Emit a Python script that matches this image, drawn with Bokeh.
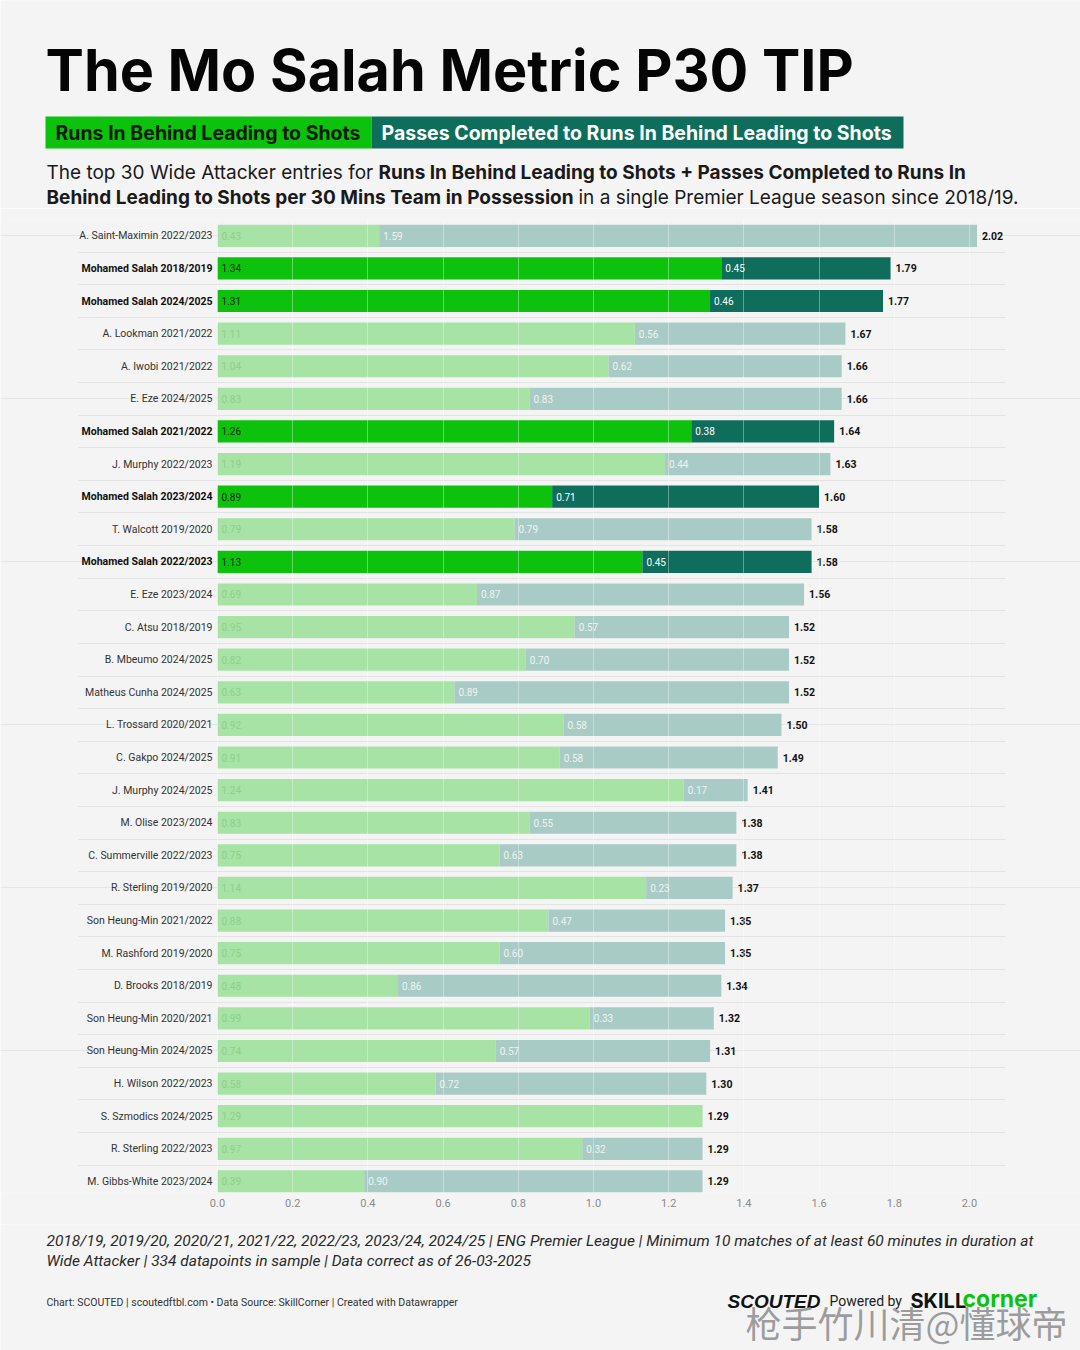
from bokeh.plotting import figure
from bokeh.models import Range1d, FixedTicker, PrintfTickFormatter, ColumnDataSource, Grid
from bokeh.layouts import column
from bokeh.core.properties import value
from bokeh.embed import file_html
from bokeh.resources import INLINE

# ---------------- data ----------------
players = [
    "A. Saint-Maximin 2022/2023", "Mohamed Salah 2018/2019", "Mohamed Salah 2024/2025",
    "A. Lookman 2021/2022", "A. Iwobi 2021/2022", "E. Eze 2024/2025",
    "Mohamed Salah 2021/2022", "J. Murphy 2022/2023", "Mohamed Salah 2023/2024",
    "T. Walcott 2019/2020", "Mohamed Salah 2022/2023", "E. Eze 2023/2024",
    "C. Atsu 2018/2019", "B. Mbeumo 2024/2025", "Matheus Cunha 2024/2025",
    "L. Trossard 2020/2021", "C. Gakpo 2024/2025", "J. Murphy 2024/2025",
    "M. Olise 2023/2024", "C. Summerville 2022/2023", "R. Sterling 2019/2020",
    "Son Heung-Min 2021/2022", "M. Rashford 2019/2020", "D. Brooks 2018/2019",
    "Son Heung-Min 2020/2021", "Son Heung-Min 2024/2025", "H. Wilson 2022/2023",
    "S. Szmodics 2024/2025", "R. Sterling 2022/2023", "M. Gibbs-White 2023/2024",
]
runs_in_behind = [0.43, 1.34, 1.31, 1.11, 1.04, 0.83, 1.26, 1.19, 0.89, 0.79,
                  1.13, 0.69, 0.95, 0.82, 0.63, 0.92, 0.91, 1.24, 0.83, 0.75,
                  1.14, 0.88, 0.75, 0.48, 0.99, 0.74, 0.58, 1.29, 0.97, 0.39]
passes_to_runs = [1.59, 0.45, 0.46, 0.56, 0.62, 0.83, 0.38, 0.44, 0.71, 0.79,
                  0.45, 0.87, 0.57, 0.70, 0.89, 0.58, 0.58, 0.17, 0.55, 0.63,
                  0.23, 0.47, 0.60, 0.86, 0.33, 0.57, 0.72, 0.00, 0.32, 0.90]
totals = [2.02, 1.79, 1.77, 1.67, 1.66, 1.66, 1.64, 1.63, 1.60, 1.58,
          1.58, 1.56, 1.52, 1.52, 1.52, 1.50, 1.49, 1.41, 1.38, 1.38,
          1.37, 1.35, 1.35, 1.34, 1.32, 1.31, 1.30, 1.29, 1.29, 1.29]
x_ticks = [0.0, 0.2, 0.4, 0.6, 0.8, 1.0, 1.2, 1.4, 1.6, 1.8, 2.0]

TITLE = "The Mo Salah Metric P30 TIP"
LEG1 = "Runs In Behind Leading to Shots"
LEG2 = "Passes Completed to Runs In Behind Leading to Shots"
SUB1_A = "The top 30 Wide Attacker entries for"
SUB1_B = "Runs In Behind Leading to Shots + Passes Completed to Runs In"
SUB2_A = "Behind Leading to Shots per 30 Mins Team in Possession"
SUB2_B = "in a single Premier League season since 2018/19."
NOTE1 = ("2018/19, 2019/20, 2020/21, 2021/22, 2022/23, 2023/24, 2024/25 | ENG Premier League | "
         "Minimum 10 matches of at least 60 minutes in duration at")
NOTE2 = "Wide Attacker | 334 datapoints in sample | Data correct as of 26-03-2025"
SOURCE = "Chart: SCOUTED | scoutedftbl.com \u2022 Data Source: SkillCorner | Created with Datawrapper"
WATERMARK = "枪手竹川清@懂球帝"

# ---------------- styles ----------------
BG = "#f4f4f4"
GREEN = "#0cc20c"
TEAL = "#0f6d5c"
LIGHT_GREEN = "#a6e3a4"
LIGHT_TEAL = "#a9cbc5"
ROBOTO = value("Roboto")
INTER = value("Inter")
W = 1080
TOTAL_H = 1350


def base(fig):
    fig.background_fill_color = BG
    fig.border_fill_color = BG
    fig.outline_line_color = None
    return fig


# ---------------- header (page pixel coordinates) ----------------
H_H = 208
h = base(figure(width=W, height=H_H, x_range=Range1d(0, W), y_range=Range1d(H_H, 0),
                x_axis_type=None, y_axis_type=None, min_border=0,
                output_backend="svg", toolbar_location=None))
h.grid.visible = False
h.text(x=[45], y=[69], text=[TITLE], text_font=INTER, text_font_style="bold",
       text_font_size="57.5px", text_color="#050505", text_baseline="middle")
h.quad(left=[45], right=[371], top=[116], bottom=[148], fill_color=GREEN, line_color=None)
h.quad(left=[371], right=[903], top=[116], bottom=[148], fill_color=TEAL, line_color=None)
h.text(x=[55], y=[132], text=[LEG1], text_font=INTER, text_font_style="bold",
       text_font_size="19.5px", text_color="#0a1a0a", text_baseline="middle")
h.text(x=[381], y=[132], text=[LEG2], text_font=INTER, text_font_style="bold",
       text_font_size="19.5px", text_color="#ffffff", text_baseline="middle")
h.text(x=[46], y=[172], text=[SUB1_A], text_font=INTER, text_font_size="19px",
       text_color="#1a1a1a", text_baseline="middle")
h.text(x=[378], y=[172], text=[SUB1_B], text_font=INTER, text_font_style="bold",
       text_font_size="19px", text_color="#1a1a1a", text_baseline="middle")
h.text(x=[46], y=[197], text=[SUB2_A], text_font=INTER, text_font_style="bold",
       text_font_size="19px", text_color="#1a1a1a", text_baseline="middle")
h.text(x=[578], y=[197], text=[SUB2_B], text_font=INTER,
       text_font_size="19px", text_color="#1a1a1a", text_baseline="middle")

# ---------------- chart ----------------
n = len(players)
idx = list(range(n))
is_salah = [name.startswith("Mohamed Salah") for name in players]
ends = [a + b for a, b in zip(runs_in_behind, passes_to_runs)]

src = ColumnDataSource(dict(
    y=idx, name=players, first=runs_in_behind, second=passes_to_runs, end=ends,
    total=[f"{t:.2f}" for t in totals],
    first_lbl=[f"{v:.2f}" for v in runs_in_behind],
    c1=[GREEN if s else LIGHT_GREEN for s in is_salah],
    c2=[TEAL if s else LIGHT_TEAL for s in is_salah],
    t1=["#0b2a0b" if s else "#8fcf8d" for s in is_salah],
))

C_H = 1016
BAR_H = 0.68
# value axis: 0 at x=217px, 2.0 at x=969px  -> 376 px per unit
c = base(figure(width=W, height=C_H, x_range=Range1d(-217 / 376, 2 + 111 / 376),
                y_range=Range1d(n - 1 + BAR_H / 2, -0.5),
                y_axis_location=None, min_border_left=0, min_border_right=0,
                min_border_top=11, min_border_bottom=32,
                output_backend="svg", toolbar_location=None))

c.add_layout(Grid(dimension=1, ticker=FixedTicker(ticks=[i + 0.5 for i in range(-1, n - 1)]),
                  cross_bounds=(-0.3697, 2.0957), grid_line_color="#e3e3e3", grid_line_width=1))

c.hbar(y="y", left=0, right="first", height=BAR_H, fill_color="c1", line_color=None, source=src)
c.hbar(y="y", left="first", right="end", height=BAR_H, fill_color="c2", line_color=None, source=src)

c.xaxis.ticker = FixedTicker(ticks=x_ticks)
c.xaxis.formatter = PrintfTickFormatter(format="%.1f")
c.xaxis.axis_line_color = None
c.xaxis.major_tick_line_color = None
c.xaxis.minor_tick_line_color = None
c.xaxis.major_tick_out = 0
c.xaxis.major_label_standoff = 6
c.xaxis.major_label_text_font = "Roboto"
c.xaxis.major_label_text_font_size = "11px"
c.xaxis.major_label_text_color = "#8a8a8a"
c.xgrid.grid_line_color = "#ffffff"
c.xgrid.grid_line_alpha = 0.35
c.xgrid.level = "overlay"

# first segment labels
c.text(x=0, y="y", text="first_lbl", x_offset=4, text_color="t1", text_font=ROBOTO,
       text_font_size="10px", text_baseline="middle", source=src)

# second segment labels (only if non-zero)
sec_rows = [i for i in idx if passes_to_runs[i] > 0]
src2 = ColumnDataSource(dict(
    y=sec_rows,
    x=[runs_in_behind[i] for i in sec_rows],
    lbl=[f"{passes_to_runs[i]:.2f}" for i in sec_rows],
    col=["#ffffff" if is_salah[i] else "#eef4f2" for i in sec_rows],
))
c.text(x="x", y="y", text="lbl", x_offset=4, text_color="col", text_font=ROBOTO,
       text_font_size="10px", text_baseline="middle", source=src2)

# totals
c.text(x="end", y="y", text="total", x_offset=5, text_color="#111111", text_font=ROBOTO,
       text_font_style="bold", text_font_size="10.5px", text_baseline="middle", source=src)

# row labels
sal_rows = [i for i in idx if is_salah[i]]
oth_rows = [i for i in idx if not is_salah[i]]
src_s = ColumnDataSource(dict(y=sal_rows, name=[players[i] for i in sal_rows]))
src_o = ColumnDataSource(dict(y=oth_rows, name=[players[i] for i in oth_rows]))
c.text(x=0, y="y", text="name", x_offset=-5, text_align="right", text_baseline="middle",
       text_font=ROBOTO, text_font_style="bold", text_font_size="10.5px",
       text_color="#111111", source=src_s)
c.text(x=0, y="y", text="name", x_offset=-5, text_align="right", text_baseline="middle",
       text_font=ROBOTO, text_font_size="10.5px", text_color="#333333", source=src_o)

# ---------------- footer (page pixel coordinates, offset by header+chart) ----------------
F_H = TOTAL_H - H_H - C_H
f = base(figure(width=W, height=F_H, x_range=Range1d(0, W), y_range=Range1d(F_H, 0),
                x_axis_type=None, y_axis_type=None, min_border=0,
                output_backend="svg", toolbar_location=None))
f.grid.visible = False
f.text(x=[46, 46], y=[16, 36], text=[NOTE1, NOTE2], text_font=ROBOTO, text_font_style="italic",
       text_font_size="15.5px", text_color="#2a2a2a", text_baseline="middle")
f.text(x=[46], y=[78], text=[SOURCE], text_font=ROBOTO, text_font_size="10.5px",
       text_color="#333333", text_baseline="middle")
f.text(x=[727], y=[77], text=["SCOUTED"], text_font=value("Liberation Sans"),
       text_font_style="bold italic", text_font_size="19px", text_color="#111111",
       text_baseline="middle")
f.text(x=[829], y=[76], text=["Powered by"], text_font=ROBOTO, text_font_size="14px",
       text_color="#222222", text_baseline="middle")
f.text(x=[910], y=[76], text=["SKILL"], text_font=INTER, text_font_style="bold",
       text_font_size="20px", text_color="#111111", text_baseline="middle")
f.text(x=[962], y=[74], text=["corner"], text_font=INTER, text_font_style="bold",
       text_font_size="23px", text_color=GREEN, text_baseline="middle")
f.text(x=[745], y=[97], text=[WATERMARK], text_font=value("Noto Sans CJK SC"),
       text_font_size="36px", text_color="#8c8c8c", text_alpha=0.85, text_baseline="middle")

layout = column(h, c, f, spacing=0)
open("out.html", "w").write(file_html(layout, INLINE))
